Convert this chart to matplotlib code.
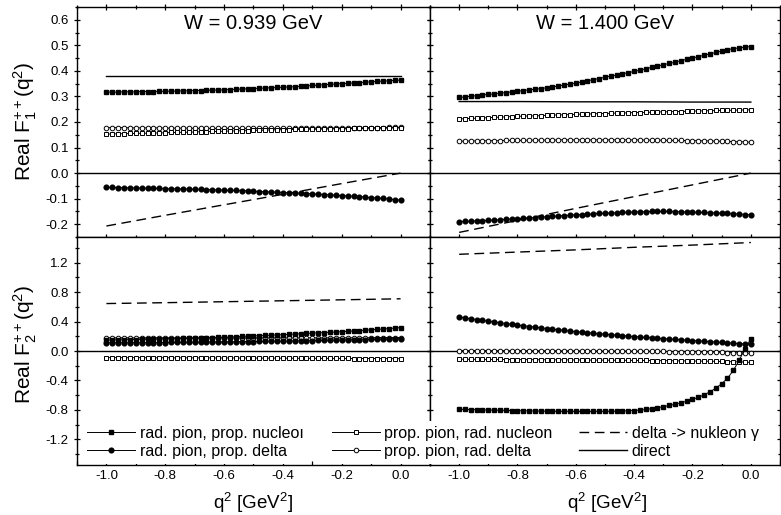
import numpy as np
import matplotlib
matplotlib.use("Agg")
import matplotlib.pyplot as plt
from matplotlib.lines import Line2D
from matplotlib.ticker import MultipleLocator, FormatStrFormatter

plt.rcParams['font.family'] = ['Liberation Sans', 'DejaVu Sans']
plt.rcParams['mathtext.fontset'] = 'custom'
plt.rcParams['mathtext.rm'] = 'Liberation Sans'
plt.rcParams['mathtext.it'] = 'Liberation Sans:italic'

# q^2 grid of the calculation (GeV^2)
q2 = np.round(np.arange(-1.0, 0.001, 0.02), 2)
q2_line = [-1.0, -0.8, -0.6, -0.4, -0.2, 0.0]

# ---- F1, W = 0.939 GeV ----
f1_939_rpn = [0.317, 0.317, 0.317, 0.318, 0.318, 0.318, 0.319, 0.319, 0.319, 0.320, 0.320,
              0.321, 0.321, 0.322, 0.322, 0.323, 0.323, 0.324, 0.325, 0.325, 0.326,
              0.327, 0.328, 0.329, 0.330, 0.331, 0.332, 0.333, 0.334, 0.335, 0.336,
              0.337, 0.338, 0.340, 0.341, 0.343, 0.344, 0.346, 0.347, 0.349, 0.350,
              0.351, 0.353, 0.354, 0.356, 0.357, 0.359, 0.360, 0.361, 0.363, 0.364]
f1_939_rpd = [-0.056, -0.056, -0.057, -0.057, -0.058, -0.058, -0.059, -0.059, -0.060, -0.060, -0.061,
              -0.061, -0.062, -0.062, -0.063, -0.063, -0.064, -0.065, -0.065, -0.066, -0.067,
              -0.068, -0.068, -0.069, -0.070, -0.071, -0.072, -0.073, -0.074, -0.075, -0.076,
              -0.077, -0.078, -0.079, -0.080, -0.081, -0.083, -0.084, -0.085, -0.087, -0.088,
              -0.089, -0.091, -0.092, -0.094, -0.096, -0.097, -0.099, -0.101, -0.104, -0.106]
f1_939_ppn = [0.153, 0.153, 0.154, 0.154, 0.155, 0.155, 0.156, 0.156, 0.157, 0.157, 0.158,
              0.159, 0.159, 0.160, 0.160, 0.161, 0.162, 0.162, 0.163, 0.163, 0.164,
              0.165, 0.165, 0.166, 0.166, 0.167, 0.168, 0.168, 0.169, 0.169, 0.170,
              0.170, 0.171, 0.171, 0.172, 0.172, 0.172, 0.173, 0.173, 0.174, 0.174,
              0.174, 0.175, 0.175, 0.175, 0.176, 0.176, 0.176, 0.177, 0.177, 0.177]
f1_939_ppd = [0.178, 0.178, 0.178, 0.178, 0.177, 0.177, 0.177, 0.177, 0.177, 0.177, 0.176,
              0.176, 0.176, 0.176, 0.176, 0.175, 0.175, 0.175, 0.175, 0.175, 0.175,
              0.175, 0.175, 0.175, 0.175, 0.175, 0.175, 0.175, 0.175, 0.175, 0.175,
              0.175, 0.175, 0.176, 0.176, 0.176, 0.176, 0.176, 0.176, 0.177, 0.177,
              0.177, 0.177, 0.177, 0.178, 0.178, 0.178, 0.178, 0.179, 0.179, 0.179]
f1_939_delta = [-0.207, -0.165, -0.124, -0.083, -0.041, 0.0]
f1_939_direct = [0.379, 0.379, 0.379, 0.379, 0.379, 0.379]

# ---- F1, W = 1.400 GeV ----
f1_1400_rpn = [0.296, 0.298, 0.301, 0.303, 0.306, 0.308,
               0.310, 0.313, 0.315, 0.318, 0.320,
               0.323, 0.326, 0.328, 0.331, 0.334,
               0.337, 0.341, 0.345, 0.348, 0.352,
               0.357, 0.361, 0.366, 0.370, 0.375,
               0.380, 0.384, 0.389, 0.393, 0.398,
               0.403, 0.408, 0.414, 0.419, 0.424,
               0.429, 0.434, 0.440, 0.445, 0.450,
               0.456, 0.461, 0.467, 0.472, 0.478,
               0.483, 0.487, 0.490, 0.493, 0.495]
f1_1400_rpd = [-0.190, -0.189, -0.188, -0.187, -0.186, -0.185, -0.184, -0.182, -0.181, -0.180, -0.178,
               -0.177, -0.175, -0.174, -0.172, -0.171, -0.169, -0.168, -0.166, -0.165, -0.163,
               -0.162, -0.161, -0.160, -0.158, -0.157, -0.156, -0.155, -0.154, -0.153, -0.152,
               -0.151, -0.151, -0.150, -0.150, -0.150, -0.150, -0.151, -0.151, -0.152, -0.153,
               -0.154, -0.154, -0.155, -0.156, -0.157, -0.158, -0.159, -0.160, -0.162, -0.163]
f1_1400_ppn = [0.212, 0.213, 0.214, 0.215, 0.216, 0.217, 0.218, 0.219, 0.220, 0.221, 0.222,
               0.223, 0.224, 0.224, 0.225, 0.226, 0.227, 0.228, 0.228, 0.229, 0.230,
               0.231, 0.231, 0.232, 0.233, 0.233, 0.234, 0.235, 0.235, 0.236, 0.237,
               0.237, 0.238, 0.238, 0.239, 0.240, 0.240, 0.241, 0.241, 0.242, 0.243,
               0.243, 0.244, 0.244, 0.245, 0.245, 0.246, 0.246, 0.247, 0.247, 0.248]
f1_1400_ppd = [0.125, 0.125, 0.126, 0.126, 0.126, 0.127, 0.127, 0.127, 0.128, 0.128, 0.128,
               0.128, 0.129, 0.129, 0.129, 0.129, 0.129, 0.130, 0.130, 0.130, 0.130,
               0.130, 0.130, 0.130, 0.130, 0.130, 0.130, 0.130, 0.130, 0.130, 0.130,
               0.130, 0.129, 0.129, 0.129, 0.129, 0.128, 0.128, 0.128, 0.127, 0.127,
               0.127, 0.126, 0.126, 0.125, 0.125, 0.124, 0.123, 0.123, 0.122, 0.121]
f1_1400_delta = [-0.232, -0.185, -0.138, -0.092, -0.046, 0.0]
f1_1400_direct = [0.280, 0.280, 0.279, 0.279, 0.278, 0.278]

# ---- F2, W = 0.939 GeV ----
f2_939_rpn = [0.148, 0.150, 0.151, 0.153, 0.155, 0.156, 0.158, 0.160, 0.161, 0.163, 0.165,
              0.167, 0.169, 0.171, 0.174, 0.176, 0.178, 0.181, 0.183, 0.186, 0.188,
              0.191, 0.194, 0.198, 0.201, 0.204, 0.208, 0.211, 0.215, 0.218, 0.222,
              0.226, 0.230, 0.234, 0.238, 0.242, 0.246, 0.250, 0.254, 0.258, 0.262,
              0.267, 0.272, 0.277, 0.283, 0.288, 0.294, 0.299, 0.305, 0.311, 0.318]
f2_939_rpd = [0.110, 0.111, 0.111, 0.112, 0.112, 0.113, 0.113, 0.114, 0.114, 0.115, 0.115,
              0.116, 0.117, 0.117, 0.118, 0.119, 0.120, 0.121, 0.122, 0.123, 0.124,
              0.125, 0.126, 0.127, 0.128, 0.129, 0.130, 0.131, 0.132, 0.133, 0.134,
              0.135, 0.137, 0.138, 0.140, 0.141, 0.143, 0.144, 0.146, 0.147, 0.149,
              0.151, 0.152, 0.154, 0.156, 0.157, 0.159, 0.161, 0.163, 0.165, 0.167]
f2_939_ppn = [-0.090, -0.090, -0.090, -0.091, -0.091, -0.091, -0.091, -0.092, -0.092, -0.092, -0.092,
              -0.093, -0.093, -0.093, -0.093, -0.094, -0.094, -0.094, -0.094, -0.095, -0.095,
              -0.095, -0.095, -0.096, -0.096, -0.096, -0.097, -0.097, -0.097, -0.097, -0.098,
              -0.098, -0.098, -0.099, -0.099, -0.099, -0.100, -0.100, -0.100, -0.101, -0.101,
              -0.101, -0.102, -0.102, -0.102, -0.103, -0.103, -0.104, -0.104, -0.104, -0.105]
f2_939_ppd = [0.180, 0.180, 0.180, 0.180, 0.180, 0.179, 0.179, 0.179, 0.179, 0.179, 0.179,
              0.178, 0.178, 0.178, 0.178, 0.178, 0.178, 0.178, 0.178, 0.178, 0.178,
              0.178, 0.178, 0.178, 0.178, 0.178, 0.178, 0.178, 0.178, 0.178, 0.178,
              0.178, 0.178, 0.178, 0.179, 0.179, 0.179, 0.179, 0.179, 0.180, 0.180,
              0.180, 0.180, 0.181, 0.181, 0.181, 0.182, 0.182, 0.182, 0.183, 0.183]
f2_939_delta = [0.645, 0.657, 0.670, 0.683, 0.696, 0.710]

# ---- F2, W = 1.400 GeV ----
f2_1400_rpn = [-0.792, -0.794, -0.796, -0.798, -0.800, -0.802, -0.804, -0.806, -0.808, -0.810, -0.812,
               -0.813, -0.815, -0.816, -0.817, -0.818, -0.819, -0.820, -0.821, -0.821, -0.822,
               -0.822, -0.822, -0.822, -0.821, -0.821, -0.820, -0.818, -0.816, -0.813, -0.809,
               -0.803, -0.795, -0.785, -0.772, -0.757, -0.741, -0.724, -0.705, -0.683, -0.658,
               -0.630, -0.596, -0.555, -0.505, -0.445, -0.370, -0.265, -0.125, 0.030, 0.165]
f2_1400_rpd = [0.462, 0.450, 0.439, 0.428, 0.416, 0.405,
               0.394, 0.384, 0.373, 0.363, 0.352,
               0.343, 0.333, 0.324, 0.314, 0.305,
               0.297, 0.288, 0.280, 0.271, 0.263,
               0.256, 0.249, 0.241, 0.234, 0.227,
               0.221, 0.215, 0.208, 0.202, 0.196,
               0.190, 0.185, 0.179, 0.174, 0.168,
               0.163, 0.158, 0.152, 0.147, 0.142,
               0.137, 0.132, 0.126, 0.121, 0.116,
               0.111, 0.106, 0.100, 0.095, 0.090]
f2_1400_ppn = [-0.112, -0.112, -0.113, -0.113, -0.114, -0.114, -0.115, -0.115, -0.116, -0.116, -0.117,
               -0.117, -0.118, -0.118, -0.119, -0.119, -0.120, -0.120, -0.121, -0.121, -0.122,
               -0.122, -0.123, -0.124, -0.124, -0.125, -0.125, -0.126, -0.127, -0.127, -0.128,
               -0.129, -0.129, -0.130, -0.131, -0.132, -0.132, -0.133, -0.134, -0.135, -0.136,
               -0.137, -0.138, -0.139, -0.141, -0.142, -0.144, -0.146, -0.148, -0.151, -0.155]
f2_1400_ppd = [0.005, 0.005, 0.005, 0.005, 0.005, 0.005, 0.004, 0.004, 0.004, 0.004, 0.004,
               0.004, 0.003, 0.003, 0.003, 0.003, 0.002, 0.002, 0.002, 0.002, 0.001,
               0.001, 0.001, 0.000, 0.000, 0.000, -0.001, -0.001, -0.002, -0.002, -0.003,
               -0.003, -0.004, -0.005, -0.005, -0.006, -0.007, -0.008, -0.009, -0.010, -0.011,
               -0.012, -0.014, -0.015, -0.017, -0.019, -0.021, -0.023, -0.026, -0.029, -0.032]
f2_1400_delta = [1.315, 1.345, 1.375, 1.410, 1.440, 1.475]

# styles for the four contributions with markers
STYLES = {
    "rpn": dict(marker='s', ms=3.4, mfc='black', mec='black'),
    "rpd": dict(marker='o', ms=3.4, mfc='black', mec='black'),
    "ppn": dict(marker='s', ms=3.3, mfc='white', mec='black', mew=0.7),
    "ppd": dict(marker='o', ms=3.3, mfc='white', mec='black', mew=0.7),
}
DASH = (0, (7, 4))

fig = plt.figure(figsize=(7.81, 5.15), dpi=100)
W, H = 781.0, 515.0
x0, xm, x1 = 77 / W, 430 / W, 780 / W
yt, ym, yb = 1 - 7 / H, 1 - 237 / H, 1 - 465 / H

ax_tl = fig.add_axes([x0, ym, xm - x0, yt - ym])
ax_tr = fig.add_axes([xm, ym, x1 - xm, yt - ym])
ax_bl = fig.add_axes([x0, yb, xm - x0, ym - yb])
ax_br = fig.add_axes([xm, yb, x1 - xm, ym - yb])


def draw_panel(ax, rpn, rpd, ppn, ppd, delta, direct=None):
    ax.axhline(0.0, color='black', lw=1.0, zorder=1)
    if direct is not None:
        ax.plot(q2_line, direct, color='black', lw=1.0)
    ax.plot(q2_line, delta, color='black', lw=1.0, ls=DASH)
    for key, vals in (("ppd", ppd), ("ppn", ppn), ("rpd", rpd), ("rpn", rpn)):
        ax.plot(q2, vals, color='black', lw=0.7, **STYLES[key])
    ax.set_xlim(-1.1, 0.1)


draw_panel(ax_tl, f1_939_rpn, f1_939_rpd, f1_939_ppn, f1_939_ppd, f1_939_delta, f1_939_direct)
draw_panel(ax_tr, f1_1400_rpn, f1_1400_rpd, f1_1400_ppn, f1_1400_ppd, f1_1400_delta, f1_1400_direct)
draw_panel(ax_bl, f2_939_rpn, f2_939_rpd, f2_939_ppn, f2_939_ppd, f2_939_delta)
draw_panel(ax_br, f2_1400_rpn, f2_1400_rpd, f2_1400_ppn, f2_1400_ppd, f2_1400_delta)

for ax in (ax_tl, ax_tr):
    ax.set_ylim(-0.25, 0.65)
    ax.yaxis.set_major_locator(MultipleLocator(0.1))
    ax.yaxis.set_minor_locator(MultipleLocator(0.05))
for ax in (ax_bl, ax_br):
    ax.set_ylim(-1.55, 1.55)
    ax.yaxis.set_major_locator(MultipleLocator(0.4))
    ax.yaxis.set_minor_locator(MultipleLocator(0.2))

for ax in (ax_tl, ax_tr, ax_bl, ax_br):
    ax.xaxis.set_major_locator(MultipleLocator(0.2))
    ax.xaxis.set_minor_locator(MultipleLocator(0.1))
    for sp in ax.spines.values():
        sp.set_linewidth(1.0)
    ax.tick_params(which='both', top=True, right=True, width=0.9, labelsize=9.5)
    ax.tick_params(which='major', length=5)
    ax.tick_params(which='minor', length=3)
    ax.tick_params(axis='x', which='both', direction='in')
    ax.tick_params(axis='y', which='both', direction='inout')
    ax.yaxis.set_major_formatter(FormatStrFormatter('%.1f'))
    ax.xaxis.set_major_formatter(FormatStrFormatter('%.1f'))

for ax in (ax_tl, ax_tr):
    ax.tick_params(axis='x', which='both', bottom=True, labelbottom=False)
    ax.tick_params(axis='x', which='both', direction='inout', bottom=True)
for ax in (ax_bl, ax_br):
    ax.tick_params(axis='x', which='both', top=False)
for ax in (ax_tr, ax_br):
    ax.tick_params(axis='y', which='both', labelleft=False)

ax_tl.text(0.5, 0.93, "W = 0.939 GeV", transform=ax_tl.transAxes, ha='center', va='center', fontsize=14.5)
ax_tr.text(0.5, 0.93, "W = 1.400 GeV", transform=ax_tr.transAxes, ha='center', va='center', fontsize=14.5)

fig.text(25 / W, 1 - 121 / H, r"Real F$_1^{++}$(q$^2$)", rotation=90, ha='center', va='center', fontsize=15)
fig.text(25 / W, 1 - 344 / H, r"Real F$_2^{++}$(q$^2$)", rotation=90, ha='center', va='center', fontsize=15)
fig.text(253 / W, 1 - 503 / H, r"q$^2$ [GeV$^2$]", ha='center', va='center', fontsize=13.5)
fig.text(607 / W, 1 - 503 / H, r"q$^2$ [GeV$^2$]", ha='center', va='center', fontsize=13.5)

# legend in three columns placed by hand, white box hides the axes behind it
h_rpn = Line2D([], [], color='black', lw=0.7, **STYLES["rpn"])
h_rpd = Line2D([], [], color='black', lw=0.7, **STYLES["rpd"])
h_ppn = Line2D([], [], color='black', lw=0.7, **STYLES["ppn"])
h_ppd = Line2D([], [], color='black', lw=0.7, **STYLES["ppd"])
h_delta = Line2D([], [], color='black', lw=1.0, ls=DASH)
h_direct = Line2D([], [], color='black', lw=1.0)

columns = [
    (82, [h_rpn, h_rpd], ["rad. pion, prop. nucleoı", "rad. pion, prop. delta"]),
    (327, [h_ppn, h_ppd], ["prop. pion, rad. nucleon", "prop. pion, rad. delta"]),
    (574, [h_delta, h_direct], ["delta -> nukleon \u03b3", "direct"]),
]
for xpos, handles, labels in columns:
    fig.legend(handles, labels, loc='upper left', bbox_to_anchor=(xpos / W, 1 - 421 / H),
               frameon=True, facecolor='white', edgecolor='none', framealpha=1.0, fancybox=False,
               fontsize=11.5, handlelength=3.0, handletextpad=0.3,
               labelspacing=0.2, borderpad=0.3, borderaxespad=0.0, numpoints=1)

fig.savefig("out.png", dpi=100)
